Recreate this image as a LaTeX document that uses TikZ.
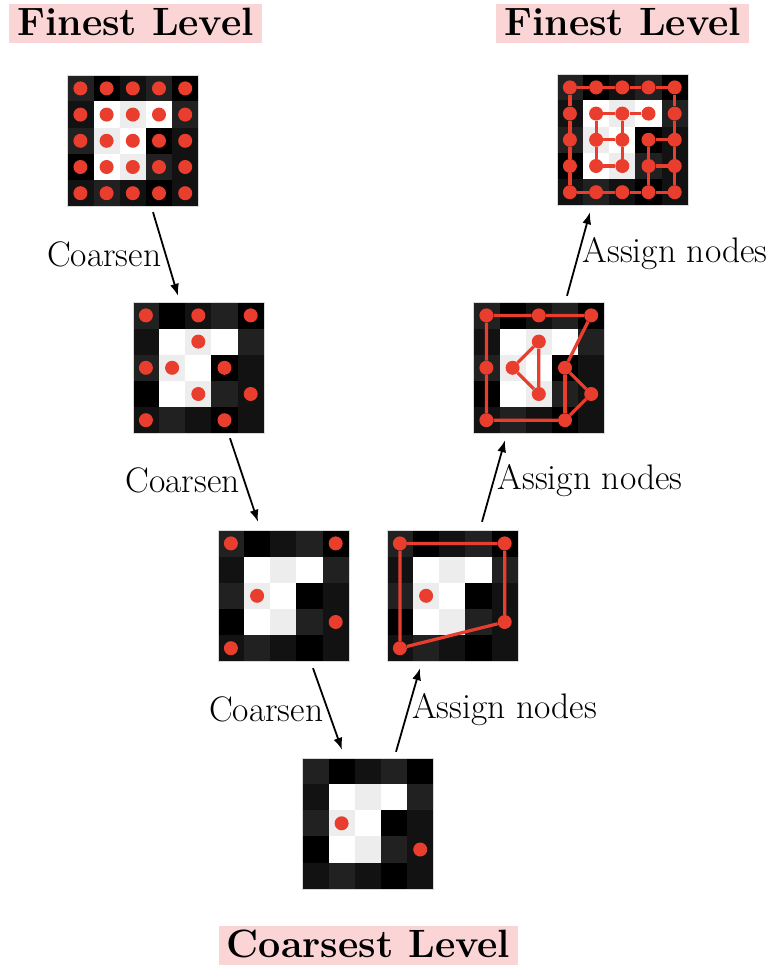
\documentclass[tikz,border=0pt]{standalone}
\usepackage{tikz}
\usetikzlibrary{calc,arrows.meta}

\definecolor{dotred}{RGB}{233,61,45}
\definecolor{tagpink}{RGB}{251,213,213}

\tikzset{
  img/.style={minimum size=131pt, inner sep=0pt},
  dot/.style={circle, fill=dotred, inner sep=0pt, minimum size=14pt},
  link/.style={draw=dotred, line width=3.2pt},
  arr/.style={-{Latex[length=12pt,width=9pt]}, line width=1.8pt},
  title/.style={fill=tagpink, font=\fontsize{39.5}{42}\selectfont\bfseries,
    inner xsep=8pt, inner ysep=5pt, text height=27pt, text depth=2pt},
  lbl/.style={font=\fontsize{35.5}{38}\selectfont}
}

% 5x5 grey picture, values are percent white, row by row
\newcommand{\pixgrid}[1]{%
  \begin{scope}[shift={(#1.north west)}]
    \foreach \r/\vals in {0/{13,0,7,13,0},1/{7,100,93,100,13},2/{13,93,100,0,7},
                          3/{0,100,93,13,7},4/{7,13,7,0,7}}
      \foreach \v [count=\c from 0] in \vals
        \fill[white!\v!black] (26.2*\c,26.2*\r) rectangle ++(26.2,26.2);
  \end{scope}
  \draw[black!15, line width=0.6pt] (#1.north west) rectangle (#1.south east);
}

% red nodes on the cells, list of col/row
\newcommand{\pixdots}[2]{%
  \begin{scope}[shift={(#1.north west)}]
    \foreach \c/\r in {#2}
      \node[dot] (#1-\c-\r) at (26.2*\c+13.1,26.2*\r+13.1) {};
  \end{scope}
}

\begin{document}
\begin{tikzpicture}[x=1pt, y=-1pt]
    \useasboundingbox (0,0) rectangle (776,965);

    % Titles
    \node[title] (finestL) at (135.5,23.5) {Finest Level};
    \node[title] (finestR) at (622.5,23.5) {Finest Level};
    \node[title] (coarsestT) at (368.5,945) {Coarsest Level};

    % Images
    \node[img] (fine1) at (133,141) {};
    \node[img] (mid1) at (198.5,368) {};
    \node[img] (coarse1) at (283.5,596) {};
    \node[img] (coarsest) at (368,823.5) {};
    \node[img] (coarse2) at (452.5,596) {};
    \node[img] (mid2) at (539,368) {};
    \node[img] (fine2) at (622.5,140) {};

    \foreach \im in {fine1,mid1,coarse1,coarsest,coarse2,mid2,fine2}
        \pixgrid{\im};

    % Nodes on each level
    \foreach \im in {fine1,fine2}{
        \begin{scope}[shift={(\im.north west)}]
            \foreach \c in {0,...,4}
                \foreach \r in {0,...,4}
                    \node[dot] (\im-\c-\r) at (26.2*\c+13.1,26.2*\r+13.1) {};
        \end{scope}
    }
    \pixdots{mid1}{0/0,2/0,4/0,2/1,0/2,1/2,3/2,2/3,4/3,0/4,3/4}
    \pixdots{mid2}{0/0,2/0,4/0,2/1,0/2,1/2,3/2,2/3,4/3,0/4,3/4}
    \pixdots{coarse1}{0/0,4/0,1/2,4/3,0/4}
    \pixdots{coarse2}{0/0,4/0,1/2,4/3,0/4}
    \pixdots{coarsest}{1/2,4/3}

    % Assigned elements
    \draw[link] (coarse2-0-0) -- (coarse2-4-0) -- (coarse2-4-3) -- (coarse2-0-4) -- (coarse2-0-0);

    \draw[link] (mid2-4-0) -- (mid2-2-0) -- (mid2-0-0) -- (mid2-0-2) -- (mid2-0-4)
        -- (mid2-3-4) -- (mid2-4-3) -- (mid2-3-2) -- (mid2-4-0);
    \draw[link] (mid2-3-2) -- (mid2-3-4);
    \draw[link] (mid2-2-1) -- (mid2-1-2) -- (mid2-2-3) -- (mid2-2-1);

    \draw[link] (fine2-0-0) -- (fine2-1-0) -- (fine2-2-0) -- (fine2-3-0) -- (fine2-4-0)
        -- (fine2-4-1) -- (fine2-4-2) -- (fine2-4-3) -- (fine2-4-4)
        -- (fine2-3-4) -- (fine2-2-4) -- (fine2-1-4) -- (fine2-0-4)
        -- (fine2-0-3) -- (fine2-0-2) -- (fine2-0-1) -- (fine2-0-0);
    \draw[link] (fine2-3-1) -- (fine2-2-1) -- (fine2-1-1) -- (fine2-1-2) -- (fine2-1-3)
        -- (fine2-2-3) -- (fine2-2-2) -- (fine2-2-1);
    \draw[link] (fine2-1-2) -- (fine2-2-2);
    \draw[link] (fine2-4-2) -- (fine2-3-2) -- (fine2-3-3) -- (fine2-3-4);
    \draw[link] (fine2-3-3) -- (fine2-4-3);

    % Arrows down
    \draw[arr] ($(fine1.south)+(20,5.5)$) -- node[lbl, left] {Coarsen} ($(mid1.north)+(-20.5,-6.5)$);
    \draw[arr] ($(mid1.south)+(31.5,4.5)$) -- node[lbl, left] {Coarsen} ($(coarse1.north)+(-25.5,-8.5)$);
    \draw[arr] ($(coarse1.south)+(29.5,6.5)$) -- node[lbl, left] {Coarsen} ($(coarsest.north)+(-26,-8)$);

    % Arrows up
    \draw[arr] ($(coarsest.north)+(28,-6)$) -- node[lbl, right] {Assign nodes} ($(coarse2.south)+(-32.5,6.5)$);
    \draw[arr] ($(coarse2.north)+(29.5,-8.5)$) -- node[lbl, right] {Assign nodes} ($(mid2.south)+(-34,6.5)$);
    \draw[arr] ($(mid2.north)+(28,-6.5)$) -- node[lbl, right] {Assign nodes} ($(fine2.south)+(-32.5,6.5)$);

\end{tikzpicture}
\end{document}
